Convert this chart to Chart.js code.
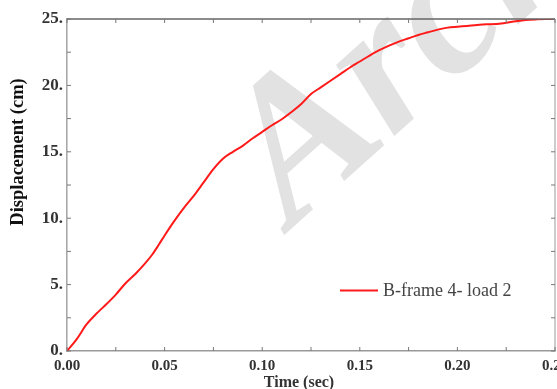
<!DOCTYPE html>
<html>
<head>
<meta charset="utf-8">
<script src="https://cdn.jsdelivr.net/npm/chart.js@4/dist/chart.umd.min.js"></script>
<style>
  html, body { margin: 0; padding: 0; background: #fff; }
  #wrap { width: 557px; height: 389px; position: relative; }
</style>
</head>
<body>
<div id="wrap"><canvas id="dispChart"></canvas></div>
<script>
// time history of roof displacement
const timeSec = [0, 0.005, 0.010, 0.015, 0.020, 0.025, 0.030, 0.035, 0.040, 0.0436, 0.047,
    0.050, 0.055, 0.060, 0.065, 0.070, 0.075, 0.080, 0.085, 0.090, 0.095,
    0.100, 0.105, 0.110, 0.115, 0.120, 0.125, 0.130, 0.135, 0.140, 0.145,
    0.150, 0.155, 0.160, 0.165, 0.170, 0.175, 0.180, 0.185, 0.190, 0.195,
    0.200, 0.205, 0.210, 0.215, 0.220, 0.225, 0.230, 0.235, 0.240, 0.245, 0.250];
const displacementCm = [0, 0.9, 2.0, 2.8, 3.5, 4.25, 5.1, 5.8, 6.6, 7.25, 8.0,
    8.7, 9.8, 10.8, 11.7, 12.7, 13.7, 14.5, 15.0, 15.45, 16.0,
    16.5, 17.0, 17.45, 18.0, 18.6, 19.35, 19.85, 20.35, 20.85, 21.35,
    21.8, 22.25, 22.65, 23.0, 23.3, 23.55, 23.8, 24.0, 24.2, 24.35,
    24.42, 24.48, 24.55, 24.6, 24.62, 24.72, 24.83, 24.92, 24.97, 25.0, 25.0];
const seriesLabel = 'B-frame 4- load 2';
const xTickLabels = ['0.00', '0.05', '0.10', '0.15', '0.20', '0.25'];
const yTickLabels = ['0.', '5.', '10.', '15.', '20.', '25.'];

const SERIF = '"Liberation Serif", "Times New Roman", serif';

const points = timeSec.map((t, i) => ({ x: t, y: displacementCm[i] }));

// watermark behind the curve
const watermark = {
    id: 'watermark',
    beforeDatasetsDraw(chart) {
        const ctx = chart.ctx;
        ctx.save();
        ctx.translate(292, 228);
        ctx.rotate(-42 * Math.PI / 180);
        ctx.font = 'bold italic 200px ' + SERIF;
        ctx.fillStyle = '#e2e2e2';
        ctx.textBaseline = 'alphabetic';
        ctx.fillText('Archive', 0, 0);
        ctx.restore();
    }
};

// inward ticks on all four sides, axis titles and legend
const frame = {
    id: 'frame',
    afterDraw(chart) {
        const ctx = chart.ctx;
        const { left, right, top, bottom } = chart.chartArea;
        const xs = chart.scales.x, ys = chart.scales.y;

        ctx.save();
        // top and right border
        ctx.strokeStyle = '#666';
        ctx.lineWidth = 1.6;
        ctx.beginPath();
        ctx.moveTo(left, top);
        ctx.lineTo(right, top);
        ctx.stroke();
        ctx.strokeStyle = '#aaa';
        ctx.lineWidth = 1.2;
        ctx.beginPath();
        ctx.moveTo(right, top);
        ctx.lineTo(right, bottom);
        ctx.stroke();

        ctx.strokeStyle = '#777';
        ctx.lineWidth = 1;
        ctx.beginPath();
        xs.ticks.forEach(t => {
            const px = xs.getPixelForValue(t.value);
            ctx.moveTo(px, bottom);
            ctx.lineTo(px, bottom - 4);
            ctx.moveTo(px, top);
            ctx.lineTo(px, top + 4);
        });
        ys.ticks.forEach(t => {
            const py = ys.getPixelForValue(t.value);
            ctx.moveTo(left, py);
            ctx.lineTo(left + 4, py);
            ctx.moveTo(right, py);
            ctx.lineTo(right - 4, py);
        });
        ctx.stroke();

        // axis titles
        ctx.fillStyle = '#111';
        ctx.font = 'bold 18.5px ' + SERIF;
        ctx.textAlign = 'center';
        ctx.textBaseline = 'middle';
        ctx.save();
        ctx.translate(18, 152);
        ctx.rotate(-Math.PI / 2);
        ctx.fillText('Displacement (cm)', 0, 0);
        ctx.restore();

        ctx.fillStyle = '#333';
        ctx.font = 'bold 16px ' + SERIF;
        ctx.fillText('Time (sec)', 299, 383);

        // legend
        const ds = chart.data.datasets[0];
        ctx.strokeStyle = ds.borderColor;
        ctx.lineWidth = 2;
        ctx.beginPath();
        ctx.moveTo(340, 290.5);
        ctx.lineTo(378, 290.5);
        ctx.stroke();
        ctx.fillStyle = '#444';
        ctx.font = '18px ' + SERIF;
        ctx.textAlign = 'left';
        ctx.fillText(ds.label, 383, 291);
        ctx.restore();
    }
};

new Chart(document.getElementById('dispChart'), {
    type: 'line',
    data: {
        datasets: [{
            label: seriesLabel,
            data: points,
            borderColor: '#ff1a1a',
            borderWidth: 2,
            pointRadius: 0,
            tension: 0.3,
            cubicInterpolationMode: 'monotone',
            fill: false
        }]
    },
    options: {
        responsive: true,
        maintainAspectRatio: false,
        animation: false,
        layout: { padding: { top: 19, right: 2, left: 0, bottom: 0 } },
        plugins: {
            legend: { display: false },
            tooltip: { enabled: false }
        },
        scales: {
            x: {
                type: 'linear',
                min: 0,
                max: 0.25,
                grid: { display: false, drawTicks: false },
                border: { display: true, color: '#999', width: 1.6 },
                ticks: {
                    stepSize: 0.025,
                    autoSkip: false,
                    maxRotation: 0,
                    padding: 6,
                    color: '#333',
                    font: { family: SERIF, size: 15, weight: 'bold' },
                    callback: v => {
                        const k = Math.round(v / 0.05);
                        return Math.abs(v - k * 0.05) < 1e-6 ? xTickLabels[k] : '';
                    }
                },
                afterFit: s => { s.height = 38; s.paddingLeft = 0; s.paddingRight = 0; }
            },
            y: {
                min: 0,
                max: 25,
                grid: { display: false, drawTicks: false },
                border: { display: true, color: '#aaa', width: 1.6 },
                ticks: {
                    stepSize: 2.5,
                    autoSkip: false,
                    padding: 4,
                    color: '#333',
                    font: { family: SERIF, size: 17, weight: 'bold' },
                    callback: v => {
                        const k = Math.round(v / 5);
                        return Math.abs(v - k * 5) < 1e-6 ? yTickLabels[k] : '';
                    }
                },
                afterFit: s => { s.width = 67; s.paddingTop = 0; s.paddingBottom = 0; }
            }
        }
    },
    plugins: [watermark, frame]
});
</script>
</body>
</html>
